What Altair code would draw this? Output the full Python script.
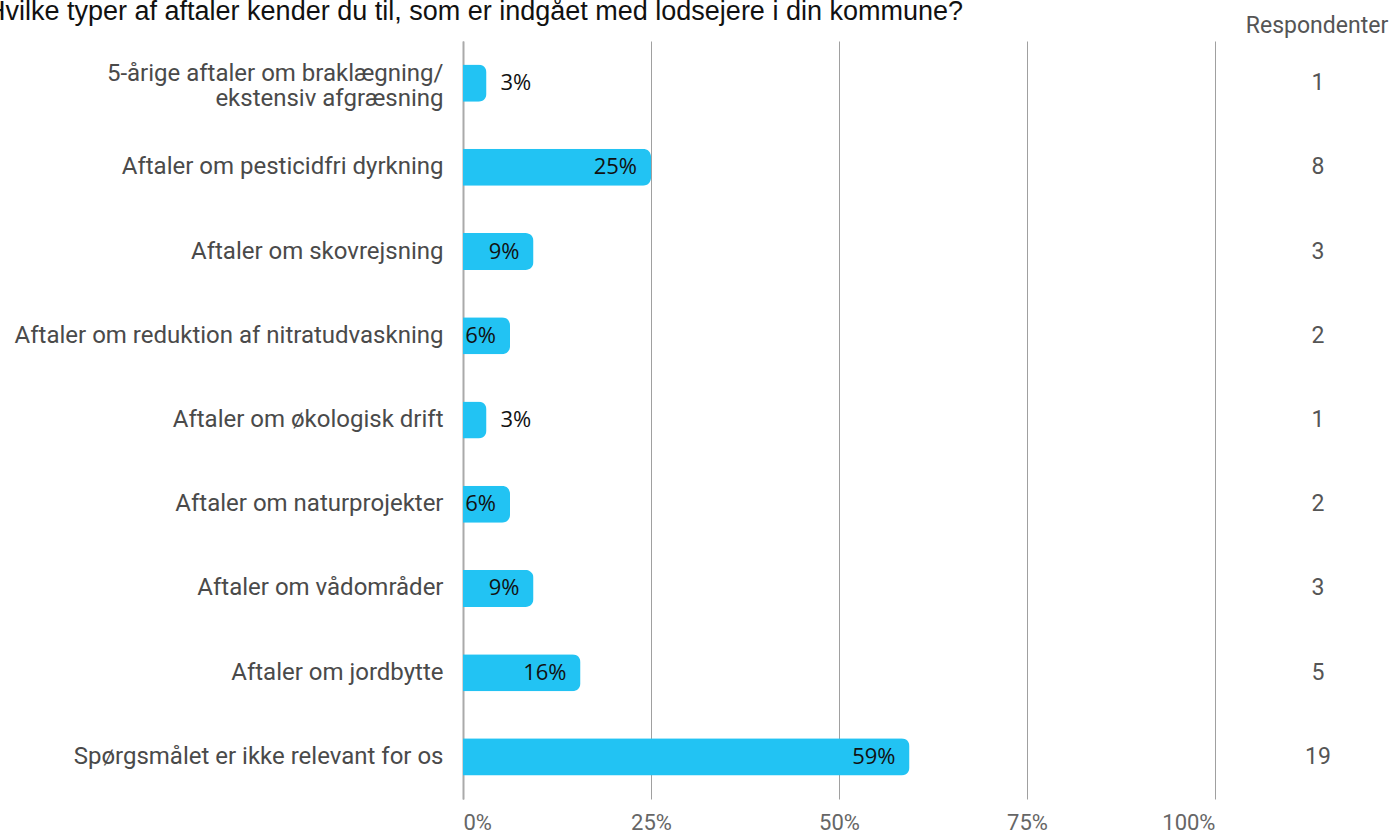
import altair as alt
import pandas as pd

TITLE = "Hvilke typer af aftaler kender du til, som er indgået med lodsejere i din kommune?"
categories = [
    "5-årige aftaler om braklægning/ekstensiv afgræsning",
    "Aftaler om pesticidfri dyrkning",
    "Aftaler om skovrejsning",
    "Aftaler om reduktion af nitratudvaskning",
    "Aftaler om økologisk drift",
    "Aftaler om naturprojekter",
    "Aftaler om vådområder",
    "Aftaler om jordbytte",
    "Spørgsmålet er ikke relevant for os",
]
respondents = [1, 8, 3, 2, 1, 2, 3, 5, 19]
total_respondents = 32
tick_values = [0, 0.25, 0.5, 0.75, 1.0]

df = pd.DataFrame({"cat": categories, "n": respondents})
df["pct"] = df["n"] / total_respondents

BAR = "#22C3F3"
order = categories

y_enc = alt.Y(
    "cat:N", sort=order, title=None,
    scale=alt.Scale(paddingInner=0.56, paddingOuter=0.28),
    axis=alt.Axis(
        labelFont="Roboto", labelFontSize=24, labelColor="#4a4a4a",
        labelPadding=20, ticks=False, domain=True, domainColor="#aaaaaa",
        domainWidth=2, labelLimit=800, labelLineHeight=25,
        labelOffset={"condition": {"test": "indexof(datum.label,'/')>=0", "value": -9}, "value": 0},
        labelExpr="indexof(datum.label,'/')>=0 ? [substring(datum.label,0,indexof(datum.label,'/')+1), substring(datum.label,indexof(datum.label,'/')+1)] : datum.label",
    ),
)
x_enc = alt.X(
    "pct:Q", title=None,
    scale=alt.Scale(domain=[0, 1], nice=False),
    axis=alt.Axis(
        values=tick_values, format=".0%", labelFont="Roboto", labelFontSize=22,
        labelColor="#666666", labelPadding=13, ticks=False, domain=False,
        grid=True, gridColor="#a0a0a0", gridWidth=1,
    ),
)

base = alt.Chart(df)
bars = base.mark_bar(color=BAR, cornerRadiusEnd=8).encode(x=x_enc, y=y_enc)

inside = base.transform_filter("datum.pct >= 0.05").mark_text(
    align="right", baseline="middle", dx=-14, font="Open Sans", fontSize=22, color="#111111"
).encode(x="pct:Q", y=alt.Y("cat:N", sort=order), text=alt.Text("pct:Q", format=".0%"))

outside = base.transform_filter("datum.pct < 0.05").mark_text(
    align="left", baseline="middle", dx=14, font="Open Sans", fontSize=22, color="#111111"
).encode(x="pct:Q", y=alt.Y("cat:N", sort=order), text=alt.Text("pct:Q", format=".0%"))

resp = base.mark_text(
    align="center", baseline="middle", font="Roboto", fontSize=23, color="#555555"
).encode(x=alt.value(855), y=alt.Y("cat:N", sort=order), text="n:Q")

hdr = alt.Chart(pd.DataFrame({"t": ["Respondenter"]})).mark_text(
    align="center", baseline="alphabetic", font="Roboto", fontSize=23, color="#555555"
).encode(x=alt.value(854), y=alt.value(-8), text="t:N")

title = alt.Chart(pd.DataFrame({"t": [TITLE]})).mark_text(
    align="left", baseline="alphabetic", font="Liberation Sans", fontSize=27, color="#111111"
).encode(x=alt.value(-477), y=alt.value(-21), text="t:N")

chart = alt.layer(bars, inside, outside, resp, hdr, title).properties(
    width=752, height=758,
    padding={"left": 463, "top": 41, "right": 178, "bottom": 35},
    autosize=alt.AutoSizeParams(type="none"),
).configure_view(stroke=None)

chart.save("out.html", embed_options={"renderer": "svg", "actions": False})
